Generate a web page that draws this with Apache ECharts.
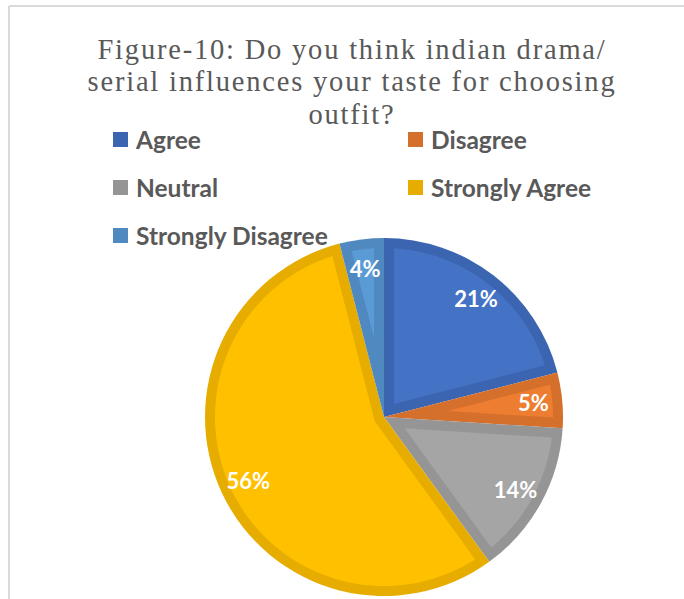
<!DOCTYPE html>
<html>
<head>
<meta charset="utf-8">
<script src="https://cdn.jsdelivr.net/npm/echarts@6/dist/echarts.min.js"></script>
<style>
  html, body { margin: 0; padding: 0; background: #fff; }
  #chart { width: 684px; height: 599px; }
  /* airy tracking for the serif heading */
  #chart text[style*="Liberation Serif"] { letter-spacing: 1.8px; }
</style>
</head>
<body>
<div id="chart"></div>
<script>
// Survey answers and their shares (percent)
const categories = ['Agree', 'Disagree', 'Neutral', 'Strongly Agree', 'Strongly Disagree'];
const shares = [21, 5, 14, 56, 4];
const fillColors = ['#4472C4', '#ED7D31', '#A5A5A5', '#FFC000', '#5B9BD5'];
const edgeColors = ['#3B65B0', '#D56F2C', '#959595', '#E6AD00', '#5089C0'];
const titleText = 'Figure-10: Do you think indian drama/\nserial influences your taste for choosing\noutfit?';

// Pie geometry
const CX = 384, CY = 417, R = 179, EDGE = 10;
const total = shares.reduce((a, b) => a + b, 0);

// Lighter inner part of each slice, inset by EDGE from every side,
// so the darker slice underneath shows as an inner border.
function insetSlice(params, api) {
  const i = params.dataIndex;
  let before = 0;
  for (let k = 0; k < i; k++) before += shares[k];
  const a0 = before / total * 2 * Math.PI;
  const a1 = (before + api.value(0)) / total * 2 * Math.PI;
  const dir = a => [Math.sin(a), -Math.cos(a)];
  const rho = R - EDGE;
  const half = (a1 - a0) / 2;
  const mid = (a0 + a1) / 2;
  const apexDist = EDGE / Math.sin(half);
  const m = dir(mid);
  const pts = [[CX + m[0] * apexDist, CY + m[1] * apexDist]];
  const d = Math.asin(EDGE / rho);
  const s = a0 + d, e = a1 - d;
  const steps = Math.max(4, Math.ceil((e - s) / 0.02));
  for (let k = 0; k <= steps; k++) {
    const u = dir(s + (e - s) * k / steps);
    pts.push([CX + u[0] * rho, CY + u[1] * rho]);
  }
  return { type: 'polygon', shape: { points: pts }, style: { fill: fillColors[i] } };
}

const pieData = categories.map((name, i) => ({ name, value: shares[i], itemStyle: { color: edgeColors[i] } }));
const legendText = { fontFamily: 'Lato', fontWeight: 'bold', fontSize: 24.5, color: '#595959', lineHeight: 24, padding: [0, 0, 0, 3] };

const chart = echarts.init(document.getElementById('chart'), null, { renderer: 'svg' });
chart.setOption({
  animation: false,
  title: {
    text: titleText,
    left: 347,
    top: 28,
    textAlign: 'center',
    textStyle: { fontFamily: 'Liberation Serif', fontWeight: 'normal', fontSize: 28.5, lineHeight: 32.5, color: '#595959' }
  },
  legend: [
    {
      data: ['Agree', 'Neutral', 'Strongly Disagree'],
      orient: 'vertical', left: 113, top: 127, padding: 0,
      itemWidth: 15, itemHeight: 15, itemGap: 23,
      icon: 'rect', textStyle: legendText, selectedMode: false
    },
    {
      data: ['Disagree', 'Strongly Agree'],
      orient: 'vertical', left: 408, top: 127, padding: 0,
      itemWidth: 15, itemHeight: 15, itemGap: 23,
      icon: 'rect', textStyle: legendText, selectedMode: false
    }
  ],
  graphic: [
    { type: 'line', shape: { x1: 9, y1: 6, x2: 684, y2: 6 }, style: { stroke: '#D9D9D9', lineWidth: 2 }, silent: true },
    { type: 'line', shape: { x1: 9, y1: 6, x2: 9, y2: 599 }, style: { stroke: '#D9D9D9', lineWidth: 2 }, silent: true }
  ],
  series: [
    {
      type: 'pie', z: 2,
      center: [CX, CY], radius: R,
      startAngle: 90, clockwise: true,
      data: pieData,
      label: { show: false }, labelLine: { show: false },
      itemStyle: { borderWidth: 0 },
      emphasis: { disabled: true }
    },
    {
      type: 'custom', z: 3,
      coordinateSystem: 'none',
      renderItem: insetSlice,
      data: shares,
      silent: true
    },
    {
      type: 'pie', z: 4,
      center: [CX, CY], radius: [115, R],
      startAngle: 90, clockwise: true,
      data: categories.map((name, i) => ({ name, value: shares[i] })),
      itemStyle: { color: 'rgba(0,0,0,0)', borderWidth: 0 },
      label: {
        show: true, position: 'inside',
        formatter: '{c}%',
        fontFamily: 'Lato', fontWeight: 'bold', fontSize: 22, color: '#ffffff'
      },
      labelLine: { show: false },
      emphasis: { disabled: true },
      silent: true
    }
  ]
});
</script>
</body>
</html>
